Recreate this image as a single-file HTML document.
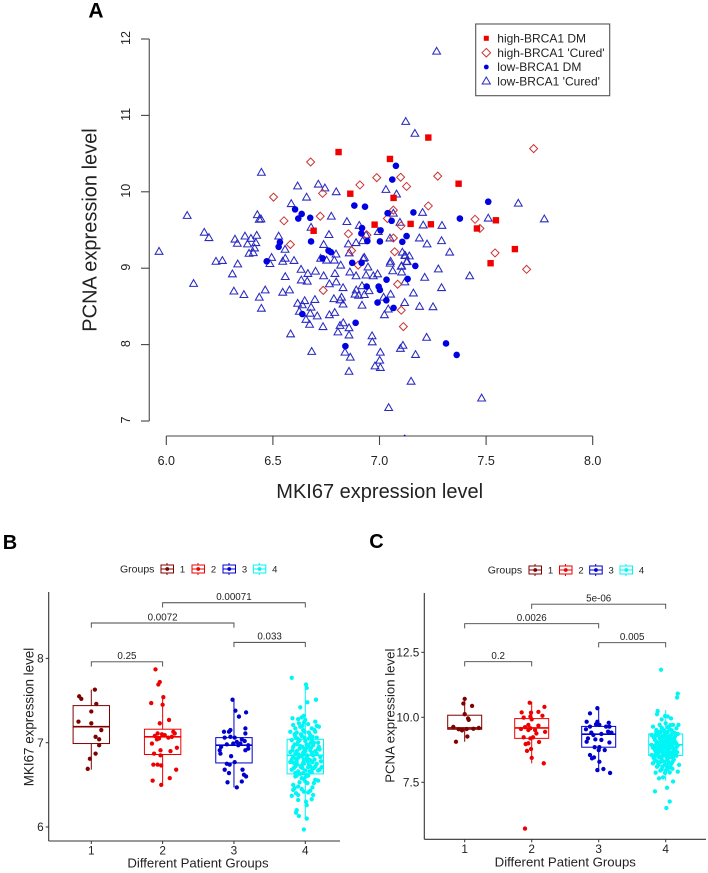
<!DOCTYPE html>
<html lang="en">
<head>
<meta charset="utf-8">
<title>BRCA1, MKI67 and PCNA expression figure</title>
<style>
  html, body { margin: 0; padding: 0; background: #fff; }
  svg { display: block; font-family: "Liberation Sans", Arial, sans-serif; }
  text { fill: #222; }
</style>
</head>
<body>
<svg id="figure" width="708" height="873" viewBox="0 0 708 873" xmlns="http://www.w3.org/2000/svg">
  <rect x="0" y="0" width="708" height="873" fill="#fff"/>

  <text x="96" y="17.5" font-size="21" font-weight="bold" text-anchor="middle" style="fill:#000">A</text>
  <text x="10" y="549" font-size="20" font-weight="bold" text-anchor="middle" style="fill:#000">B</text>
  <text x="376.5" y="548" font-size="20" font-weight="bold" text-anchor="middle" style="fill:#000">C</text>

  <g id="panel-a">
    <text x="379.7" y="498" font-size="20" text-anchor="middle">MKI67 expression level</text>
    <text transform="translate(96.7 230) rotate(-90)" font-size="20" text-anchor="middle">PCNA expression level</text>
  </g>

  <g id="panel-a-legend">
    <rect x="475.7" y="24" width="134" height="71.7" fill="#fff" stroke="#555" stroke-width="1.1"/>
    <rect x="483.8" y="35.8" width="5" height="5" fill="#f00000"/>
    <path d="M486.3 48.4 L490.6 52.7 L486.3 57 L482 52.7 Z" fill="none" stroke="#cc3333" stroke-width="1"/>
    <circle cx="486.3" cy="67" r="2.4" fill="#0000e0"/>
    <path d="M486.3 77 L490.4 84 L482.2 84 Z" fill="none" stroke="#2a2ab8" stroke-width="1"/>
    <text x="497.3" y="42.5" font-size="12">high-BRCA1 DM</text>
    <text x="497.3" y="56.8" font-size="12">high-BRCA1 'Cured'</text>
    <text x="497.3" y="71.2" font-size="12">low-BRCA1 DM</text>
    <text x="497.3" y="85.3" font-size="12">low-BRCA1 'Cured'</text>
  </g>

  <g id="panel-b">
    <text x="198" y="867.5" font-size="13.2" text-anchor="middle">Different Patient Groups</text>
    <text transform="translate(33.5 717) rotate(-90)" font-size="13.4" text-anchor="middle">MKI67 expression level</text>
    <text x="120" y="572.7" font-size="10.5">Groups</text>
  </g>

  <g id="panel-c">
    <text x="565.3" y="866.5" font-size="13.2" text-anchor="middle">Different Patient Groups</text>
    <text transform="translate(394.5 715.7) rotate(-90)" font-size="13.2" text-anchor="middle">PCNA expression level</text>
    <text x="487.7" y="573.7" font-size="10.5">Groups</text>
  </g>
</svg>

<script>
// ---------- Panel A values: [MKI67, PCNA] ----------
const scatterXTicks = [6.0, 6.5, 7.0, 7.5, 8.0];
const scatterYTicks = [7, 8, 9, 10, 11, 12];

const lowCured = [
[7.123,10.92],[7.166,10.765],[6.446,10.255],[6.616,10.076],[6.713,10.10],[6.744,10.05],[6.797,10.0],[6.658,9.93],[7.03,10.03],[7.08,9.97],
[6.586,9.845],[6.427,9.70],[6.444,9.645],[6.436,9.64],[6.098,9.69],[6.774,9.68],[6.847,9.61],[6.178,9.47],[6.20,9.40],[6.369,9.42],
[6.424,9.43],[6.322,9.38],[6.397,9.39],[6.527,9.42],[6.679,9.535],[6.763,9.44],[6.905,9.56],[6.994,9.48],[7.049,9.395],[7.096,9.60],
[7.202,9.73],[7.205,9.565],[7.187,9.395],[7.065,9.72],[6.937,9.435],[6.333,9.325],[6.381,9.317],[6.42,9.334],[6.414,9.264],[5.966,9.22],
[6.388,9.194],[6.408,9.203],[6.233,9.09],[6.263,9.10],[6.335,9.055],[6.31,8.925],[6.128,8.80],[6.317,8.70],[6.364,8.654],[6.436,8.62],
[6.464,8.715],[6.446,8.475],[6.494,9.14],[6.486,9.06],[6.558,9.13],[6.546,9.09],[6.557,9.247],[6.599,9.10],[6.632,8.985],[6.664,8.93],
[6.70,8.96],[6.738,8.90],[6.558,8.89],[6.633,8.845],[6.661,8.83],[6.546,8.685],[6.578,8.715],[6.616,8.54],[6.649,8.575],[6.638,8.52],
[6.697,8.59],[6.679,8.49],[6.624,8.435],[6.675,8.41],[6.708,8.375],[6.655,8.33],[6.672,8.265],[6.735,8.235],[6.765,8.39],[6.79,8.42],
[6.786,8.60],[6.822,8.62],[6.815,8.585],[6.829,8.53],[6.918,8.515],[6.829,8.745],[6.765,8.795],[6.797,8.82],[6.791,8.93],[6.818,9.04],
[6.752,9.105],[6.788,9.105],[6.724,9.13],[6.796,9.185],[6.738,9.31],[6.854,9.317],[6.89,9.334],[6.858,9.20],[6.861,8.95],[6.89,8.90],
[6.937,8.91],[6.946,9.015],[6.971,8.90],[6.991,8.925],[6.918,8.77],[6.924,9.13],[6.929,9.14],[6.891,8.715],[6.885,8.66],[6.902,8.645],
[6.929,8.654],[6.951,8.705],[7.019,8.62],[7.052,8.66],[7.023,8.39],[7.041,8.465],[7.118,8.55],[6.805,8.165],[6.815,8.25],[6.83,8.285],
[6.857,8.22],[6.857,8.125],[6.583,8.14],[6.682,7.91],[6.838,7.90],[6.863,7.835],[6.857,7.65],[6.965,8.115],[6.966,8.035],[7.004,7.90],
[7.001,7.795],[6.979,7.72],[7.004,7.70],[7.098,7.95],[7.11,7.99],[7.043,7.175],[7.148,7.52],[7.05,9.065],[7.052,9.09],[7.062,8.965],
[7.104,8.95],[7.104,9.03],[7.119,9.17],[7.107,9.21],[7.127,9.085],[7.293,9.56],[7.223,9.317],[7.291,9.36],[7.329,9.21],[7.276,8.99],
[7.212,8.88],[7.423,8.90],[7.291,8.745],[7.159,8.675],[7.188,8.50],[7.251,8.495],[7.221,8.095],[7.169,7.87],[7.479,7.30],[7.121,9.165],
[7.14,9.16],[7.13,9.09],[7.102,9.025],[7.119,8.82],[7.773,9.645],[7.268,11.84],[7.651,9.85],[7.51,9.655],[6.921,9.36]
];
const lowDm = [
[7.077,10.34],[7.06,10.16],[6.604,9.77],[6.635,9.71],[6.619,9.65],[6.675,9.66],[6.882,9.82],[6.932,9.805],[7.038,9.72],[7.159,9.73],
[7.057,9.62],[6.918,9.525],[7.005,9.495],[6.915,9.455],[7.127,9.42],[6.533,9.34],[6.527,9.28],[6.679,9.35],[6.471,9.09],[6.761,9.23],
[6.772,9.21],[6.733,9.13],[6.872,9.07],[6.916,9.07],[6.943,9.355],[7.002,9.35],[7.107,9.345],[7.132,8.86],[7.033,8.85],[6.94,8.76],
[6.996,8.76],[7.002,8.715],[6.991,8.55],[7.032,8.58],[7.066,8.48],[6.638,8.40],[6.888,8.285],[6.84,7.98],[7.168,9.03],[7.312,8.015],
[7.362,7.865],[7.377,9.65],[7.51,9.87],[7.118,6.81]
];
const highCured = [
[6.677,10.39],[6.987,10.185],[7.099,10.19],[7.127,10.07],[6.908,10.09],[6.733,9.98],[6.503,9.93],[7.229,9.815],[6.552,9.62],[6.722,9.68],
[7.065,9.76],[7.037,9.65],[7.101,9.555],[6.854,9.45],[6.941,9.435],[7.065,9.395],[7.723,10.565],[7.273,10.205],[7.448,9.64],[7.471,9.52],
[6.582,9.31],[6.869,9.23],[6.90,9.04],[7.071,9.215],[7.085,8.79],[6.736,8.71],[7.102,8.45],[7.112,8.235],[7.542,9.20],[7.69,8.985]
];
const highDm = [
[6.808,10.52],[7.049,10.43],[7.229,10.71],[6.863,9.975],[7.066,9.92],[7.146,9.58],[6.977,9.57],[6.691,9.49],[7.241,9.575],[7.371,10.106],
[7.546,9.627],[7.457,9.52],[7.635,9.25],[7.521,9.065]
];

// ---------- Panel B values: [jitter (group widths), MKI67] ----------
const mkiYTicks = [6, 7, 8];
const mkiGroup1 = [[-.17,7.55],[-.14,7.52],[.05,7.63],[.07,7.46],[0,7.37],[-.18,7.25],[0,7.23],[.14,7.15],[.06,7.07],[.11,7.04],[.11,6.97],[.06,6.87],[-.02,6.81],[-.05,6.69]];
const mkiGroup2 = [[-.10,7.87],[-.04,7.72],[-.06,7.69],[.01,7.54],[-.16,7.47],[0,7.45],[-.04,7.23],[.09,7.27],[-.07,7.11],[-.11,7.08],[-.01,7.10],[.03,7.09],[.15,7.13],[.17,7.11],[.08,7.06],[.13,7.07],[-.05,7.05],[-.08,7.04],[-.15,6.99],[.20,6.94],[-.03,6.91],[.11,6.90],[-.12,6.87],[-.03,6.85],[-.13,6.74],[-.07,6.74],[-.02,6.73],[.19,6.68],[-.14,6.55],[.10,6.58],[-.02,6.50]];
const mkiGroup3 = [[-.02,7.51],[.02,7.38],[.07,7.31],[.17,7.36],[-.05,7.15],[-.07,7.13],[-.14,7.13],[.16,7.17],[.16,7.11],[-.05,7.07],[.01,7.06],[-.13,7.06],[.11,7.04],[.04,7.01],[.15,7.02],[-.10,6.98],[-.01,6.99],[.09,6.99],[.20,6.97],[-.20,6.91],[-.19,6.87],[.16,6.91],[-.04,6.84],[-.10,6.75],[.01,6.77],[-.06,6.74],[-.13,6.68],[.12,6.68],[-.07,6.64],[.14,6.62],[.17,6.60],[-.09,6.53],[.11,6.54],[.04,6.47],[-.18,6.95],[.06,6.97],[.20,6.93]];
const mkiGroup4 = [[-.19,7.77],[.01,7.69],[.02,7.65],[-.07,7.42],[.03,7.48],[.15,7.51],[-.02,7.32],[-.18,7.29],[-.10,7.28],[-.05,7.30],[0,7.27],[.14,7.25],[.19,7.19],[.09,7.17],[-.17,7.21],[-.07,7.19],[.04,7.22],[-.21,7.13],[-.12,7.12],[-.03,7.15],[.14,7.13],[-.14,7.07],[-.05,7.08],[.07,7.09],[.16,7.06],[-.19,7.03],[-.10,7.01],[0,7.02],[.09,7.04],[.18,7.00],[-.17,6.95],[-.07,6.96],[.02,6.94],[.11,6.97],[.18,6.93],[-.21,6.89],[-.12,6.90],[-.03,6.88],[.07,6.91],[.16,6.87],[-.17,6.83],[-.07,6.84],[.02,6.82],[.11,6.85],[.21,6.83],[-.21,6.77],[-.12,6.78],[-.03,6.76],[.07,6.79],[.16,6.75],[-.14,6.72],[-.05,6.73],[.04,6.71],[.14,6.72],[.23,6.71],[-.19,6.68],[-.10,6.66],[0,6.67],[.09,6.65],[.18,6.67],[-.14,6.60],[-.05,6.58],[.04,6.61],[.14,6.56],[.18,6.55],[-.17,6.50],[-.10,6.48],[0,6.54],[-.17,6.44],[-.05,6.45],[.07,6.43],[-.19,6.37],[-.10,6.38],[.11,6.38],[-.10,6.32],[.09,6.33],[.01,6.30],[-.12,6.20],[.02,6.26],[-.13,6.17],[-.09,6.13],[.02,6.10],[-.02,5.97],[-.15,6.98],[-.01,6.92],[.13,6.80],[-.09,6.86],[.05,6.74],[-.16,6.70],[.08,6.94],[-.02,6.80],[.12,7.00],[-.08,7.03],[.03,6.85],[-.13,6.81],[.20,6.92],[-.04,6.70],[.10,6.69],[-.18,6.91],[.05,7.05],
[-.12,6.98],[-.08,6.93],[-.04,6.95],[0,6.90],[.04,6.97],[.09,6.88],[-.14,6.87],[-.10,6.82],[-.05,6.84],[-.01,6.86],[.05,6.80],[.10,6.77],[.14,6.90],[-.16,6.76],[-.11,6.74],[-.06,6.71],[-.02,6.75],[.03,6.78],[.07,6.72],[.12,6.70],[-.14,6.64],[-.07,6.63],[-.03,6.64],[.02,6.62],[.06,6.66],[-.12,6.61],[-.02,6.57],[.01,6.60],[.03,6.52],[-.08,6.53],[-.15,6.46],[-.13,6.40],[-.02,6.42],[.04,6.41],[.10,6.47],[.12,6.52],[-.11,7.05],[-.06,7.10],[-.01,7.06],[.05,7.12],[.10,7.07],[.13,7.15],[.16,7.20],[-.14,7.17],[-.09,7.23],[-.04,7.20],[-.02,7.24],[-.01,7.13],[.08,7.00],[.02,6.98],[-.15,7.10],[.19,6.95],[-.19,6.80],[.20,6.68],[.22,6.78]];

const mkiBoxStats = [[6.68,6.99,7.19,7.44,7.63],[6.50,6.86,7.07,7.16,7.54],[6.47,6.76,6.97,7.06,7.52],[6.10,6.63,6.85,7.04,7.68]];
const mkiBracketFrom = [1, 1, 3, 2];
const mkiBracketTo = [2, 3, 4, 4];
const mkiBracketLevel = [7.96, 8.42, 8.19, 8.66];
const mkiBracketLabel = ['0.25', '0.0072', '0.033', '0.00071'];

// ---------- Panel C values: [jitter (group widths), PCNA] ----------
const pcnaYTicks = [7.5, 10.0, 12.5];
const pcnaGroup1 = [[0,10.71],[-.02,10.53],[.11,10.44],[0,10.12],[.05,9.96],[.06,9.90],[-.17,9.63],[-.04,9.50],[-.09,9.54],[.03,9.55],[.13,9.56],[.21,9.59],[.04,9.26],[-.13,9.06]];
const pcnaGroup2 = [[-.03,10.56],[.19,10.40],[-.15,10.19],[.10,10.21],[-.01,10.18],[-.02,10.03],[.16,10.06],[-.12,9.99],[0,9.92],[.10,9.68],[-.05,9.71],[-.10,9.62],[-.16,9.55],[-.02,9.58],[.05,9.51],[.20,9.44],[.07,9.38],[-.12,9.23],[-.02,9.19],[.02,9.23],[.11,9.05],[-.05,9.0],[-.09,8.97],[-.01,8.78],[-.07,8.71],[0,8.44],[.18,8.23],[-.10,5.72],[-.05,9.51]];
const pcnaGroup3 = [[-.02,10.35],[-.13,10.15],[-.18,9.83],[-.02,9.83],[.15,9.79],[-.04,9.73],[.01,9.71],[-.13,9.64],[-.19,9.54],[.16,9.64],[-.11,9.41],[.14,9.45],[.19,9.41],[.04,9.36],[-.08,9.32],[-.16,9.19],[-.05,9.15],[.04,9.13],[-.18,9.06],[.16,9.03],[-.06,8.85],[.01,8.85],[.09,8.74],[0,8.74],[-.13,8.55],[-.07,8.46],[-.10,8.42],[.01,8.29],[.07,8.01],[-.02,7.97],[.17,7.86],[.11,9.64]];
const pcnaGroup4 = [[-.07,11.83],[.18,10.91],[.17,10.76],[-.12,10.24],[-.13,10.12],[-.01,10.05],[.03,10.03],[.08,9.96],[-.06,9.92],[.19,9.71],[-.19,9.64],[-.09,9.71],[0,9.77],[.11,9.71],[.16,9.58],[-.14,9.51],[-.04,9.52],[.06,9.54],[-.21,9.32],[-.11,9.33],[-.01,9.36],[.08,9.31],[.18,9.36],[-.16,9.13],[-.06,9.14],[.03,9.15],[.13,9.12],[-.21,8.94],[-.11,8.96],[-.01,8.93],[.08,8.95],[.18,8.92],[-.16,8.74],[-.06,8.76],[.04,8.73],[.14,8.75],[-.21,8.55],[-.11,8.57],[-.01,8.54],[.08,8.56],[.16,8.52],[-.16,8.36],[-.06,8.38],[.03,8.35],[.12,8.37],[-.19,8.23],[-.11,8.17],[-.01,8.18],[.08,8.20],[.20,8.17],[-.06,8.00],[.03,8.02],[.18,7.91],[-.15,7.87],[-.01,7.86],[.06,7.88],[-.10,7.65],[-.04,7.69],[.11,7.53],[.02,7.29],[-.16,7.15],[.06,6.76],[.01,6.51],[-.18,9.24],[-.03,9.23],[.10,9.42],[-.13,9.05],[.05,9.02],[.15,9.02],[-.08,8.85],[.01,8.83],[.10,8.85],[-.19,8.83],[-.13,8.66],[-.03,8.65],[.06,8.64],[.17,8.66],[-.08,8.46],[.02,8.45],[.09,8.46],[-.14,9.42],[.03,9.44],[.13,9.40],[-.07,9.46],[-.18,8.44],
[-.15,9.28],[-.09,9.20],[-.05,9.28],[.0,9.10],[.05,9.25],[.09,9.18],[.14,9.26],[-.14,8.98],[-.09,9.04],[-.04,9.04],[.02,8.98],[.06,9.08],[.11,9.02],[.16,8.98],[-.17,8.88],[-.12,8.82],[-.06,8.90],[-.02,8.82],[.03,8.88],[.07,8.82],[.12,8.80],[.16,8.84],[-.15,8.60],[-.10,8.70],[-.05,8.64],[.01,8.70],[.05,8.58],[.10,8.66],[.14,8.60],[-.16,8.50],[-.10,8.46],[-.04,8.52],[.01,8.58],[.06,8.48],[.11,8.50],[-.13,8.30],[-.08,8.28],[-.03,8.30],[.04,8.26],[.10,8.28],[-.13,8.10],[-.05,8.10],[.02,8.12],[.07,8.08],[-.08,7.95],[.00,7.95],[.10,8.02],[-.06,9.60],[.03,9.62],[.07,9.70],[-.10,9.44],[-.03,9.48],[.09,9.50],[.01,9.28],[-.07,9.16]];

const pcnaBoxStats = [[9.06,9.54,9.59,10.08,10.73],[8.23,9.19,9.59,9.95,10.6],[7.9,8.85,9.35,9.65,10.38],[7.56,8.53,8.94,9.36,10.28]];
const pcnaBracketFrom = [1, 1, 3, 2];
const pcnaBracketTo = [2, 3, 4, 4];
const pcnaBracketLevel = [12.14, 13.60, 12.87, 14.35];
const pcnaBracketLabel = ['0.2', '0.0026', '0.005', '5e-06'];

const groupLabels = ['1', '2', '3', '4'];
const groupColors = ['#7f0000', '#ee0000', '#0000cd', '#00f5f5'];

// ---------- Helpers ----------
const NS = 'http://www.w3.org/2000/svg';
function make(parent, tag, attrs, content) {
  const el = document.createElementNS(NS, tag);
  for (const k in attrs) el.setAttribute(k, attrs[k]);
  if (content !== undefined) el.textContent = content;
  parent.appendChild(el);
  return el;
}

// ---------- Panel A ----------
const panelA = document.getElementById('panel-a');
const xA = v => 166.3 + (v - 6) * 213.2;
const yA = v => 39 + (12 - v) * 76.4;

const axA = make(panelA, 'path', { d: `M${xA(6)} 436 H${xA(8)}`, stroke: '#444', 'stroke-width': 1.1, fill: 'none' });


const ayA = make(panelA, 'path', { d: `M149.3 ${yA(12)} V${yA(7)}`, stroke: '#666', 'stroke-width': 1.3, fill: 'none' });



scatterXTicks.forEach(t => {
  const tick = make(panelA, 'path', { d: `M${xA(t)} 436 V445`, stroke: '#444', 'stroke-width': 1.1 });
  
  
  const label = make(panelA, 'text', { x: xA(t), y: 465, 'font-size': 12.5, 'text-anchor': 'middle' }, t.toFixed(1));
  
  
});
scatterYTicks.forEach(t => {
  const tick = make(panelA, 'path', { d: `M141 ${yA(t)} H149.3`, stroke: '#444', 'stroke-width': 1.1 });
  
  
  const label = make(panelA, 'text', { transform: `translate(130 ${yA(t) - 1}) rotate(-90)`, 'font-size': 12.5, 'text-anchor': 'middle' }, String(t));
  
  
});

lowCured.forEach(p => {
  const cx = xA(p[0]), cy = yA(p[1]);
  const m = make(panelA, 'path', { d: `M${cx} ${cy - 3.9} L${cx + 3.9} ${cy + 2.9} L${cx - 3.9} ${cy + 2.9} Z`, fill: 'none', stroke: '#2a2ac0', 'stroke-width': 1.05 });
  
  
});
highCured.forEach(p => {
  const cx = xA(p[0]), cy = yA(p[1]);
  const m = make(panelA, 'path', { d: `M${cx} ${cy - 4} L${cx + 4} ${cy} L${cx} ${cy + 4} L${cx - 4} ${cy} Z`, fill: 'none', stroke: '#cc3333', 'stroke-width': 1 });
  
  
});
lowDm.forEach(p => {
  const tiny = p[1] < 7;
  const m = make(panelA, 'circle', { cx: xA(p[0]), cy: yA(p[1]), r: tiny ? 0.9 : 3.3, fill: '#0000e0' });
  
  
});
highDm.forEach(p => {
  const m = make(panelA, 'rect', { x: xA(p[0]) - 3.2, y: yA(p[1]) - 3.2, width: 6.4, height: 6.4, fill: '#f00000' });
  
  
});

// ---------- Panels B and C ----------
function drawBoxPanel(root, cfg) {
  const xPos = g => cfg.x1 + (g - 1) * cfg.step;
  const yPos = v => cfg.yRef + (cfg.refValue - v) * cfg.unit;

  const axisY = make(root, 'path', { d: `M${cfg.axisX} ${cfg.axisTop} V${cfg.axisBottom}`, stroke: '#333', 'stroke-width': 1.1, fill: 'none' });
  
  
  const axisX = make(root, 'path', { d: `M${cfg.axisX} ${cfg.axisBottom} H${cfg.axisRight}`, stroke: '#333', 'stroke-width': 1.1, fill: 'none' });
  
  

  cfg.yTicks.forEach(t => {
    const tick = make(root, 'path', { d: `M${cfg.axisX - 3} ${yPos(t)} H${cfg.axisX}`, stroke: '#333', 'stroke-width': 1 });
    
    
    const label = make(root, 'text', { x: cfg.axisX - 5, y: yPos(t) + 4.2, 'font-size': 11.8, 'text-anchor': 'end' }, cfg.yFormat(t));
    
    
  });

  groupLabels.forEach((name, i) => {
    const g = i + 1, x = xPos(g), c = groupColors[i], s = cfg.stats[i];
    const tick = make(root, 'path', { d: `M${x} ${cfg.axisBottom} V${cfg.axisBottom + 3}`, stroke: '#333', 'stroke-width': 1 });
    
    
    const label = make(root, 'text', { x: x, y: cfg.axisBottom + 13.5, 'font-size': 11.8, 'text-anchor': 'middle' }, name);
    
    

    const whisker = make(root, 'path', { d: `M${x} ${yPos(s[4])} V${yPos(s[3])} M${x} ${yPos(s[1])} V${yPos(s[0])}`, stroke: c, 'stroke-width': 1, fill: 'none' });
    
    
    const box = make(root, 'rect', { x: x - cfg.halfBox, y: yPos(s[3]), width: cfg.halfBox * 2, height: yPos(s[1]) - yPos(s[3]), fill: '#fff', stroke: c, 'stroke-width': 1 });
    
    
    const median = make(root, 'path', { d: `M${x - cfg.halfBox} ${yPos(s[2])} H${x + cfg.halfBox}`, stroke: c, 'stroke-width': 1.6 });
    
    

    cfg.points[i].forEach(p => {
      const dot = make(root, 'circle', { cx: x + p[0] * cfg.step, cy: yPos(p[1]), r: 2.15, fill: c });
      
      
    });

    const kx = cfg.keyX[i];
    const keyLine = make(root, 'path', { d: `M${kx + 6} ${cfg.keyY - 6} V${cfg.keyY - 4} M${kx + 6} ${cfg.keyY + 4} V${cfg.keyY + 6}`, stroke: c, 'stroke-width': 1 });
    
    
    const keyBox = make(root, 'rect', { x: kx, y: cfg.keyY - 4, width: 12.5, height: 8, fill: '#fff', stroke: c, 'stroke-width': 1 });
    
    
    const keyMedian = make(root, 'path', { d: `M${kx} ${cfg.keyY} H${kx + 12.5}`, stroke: c, 'stroke-width': 1 });
    
    
    const keyDot = make(root, 'circle', { cx: kx + 6.25, cy: cfg.keyY, r: 1.9, fill: c });
    
    
    const keyLabel = make(root, 'text', { x: kx + 21.5, y: cfg.keyY + 3.3, 'font-size': 9.5, 'text-anchor': 'middle' }, name);
    
    
  });

  cfg.bracketLabel.forEach((text, i) => {
    const a = xPos(cfg.bracketFrom[i]), b = xPos(cfg.bracketTo[i]), y = yPos(cfg.bracketLevel[i]);
    const br = make(root, 'path', { d: `M${a} ${y + 4.7} V${y} H${b} V${y + 4.7}`, fill: 'none', stroke: '#444', 'stroke-width': 0.9 });
    
    
    const label = make(root, 'text', { x: (a + b) / 2, y: y - 2.7, 'font-size': 9.8, 'text-anchor': 'middle' }, text);
    
    
  });
}

drawBoxPanel(document.getElementById('panel-b'), {
  x1: 91.3, step: 71.33, yRef: 742.7, refValue: 7, unit: 84.3, halfBox: 18.2,
  axisX: 48.7, axisTop: 592, axisBottom: 841, axisRight: 340,
  yTicks: mkiYTicks, yFormat: t => String(t),
  stats: mkiBoxStats,
  points: [mkiGroup1, mkiGroup2, mkiGroup3, mkiGroup4],
  keyX: [161, 192, 223, 253.3], keyY: 569,
  bracketFrom: mkiBracketFrom, bracketTo: mkiBracketTo, bracketLevel: mkiBracketLevel, bracketLabel: mkiBracketLabel
});

drawBoxPanel(document.getElementById('panel-c'), {
  x1: 464.7, step: 67, yRef: 717.3, refValue: 10, unit: 26, halfBox: 17,
  axisX: 424.3, axisTop: 593, axisBottom: 839.3, axisRight: 706,
  yTicks: pcnaYTicks, yFormat: t => t.toFixed(1),
  stats: pcnaBoxStats,
  points: [pcnaGroup1, pcnaGroup2, pcnaGroup3, pcnaGroup4],
  keyX: [529, 559.5, 589.7, 620], keyY: 570,
  bracketFrom: pcnaBracketFrom, bracketTo: pcnaBracketTo, bracketLevel: pcnaBracketLevel, bracketLabel: pcnaBracketLabel
});
</script>
</body>
</html>
